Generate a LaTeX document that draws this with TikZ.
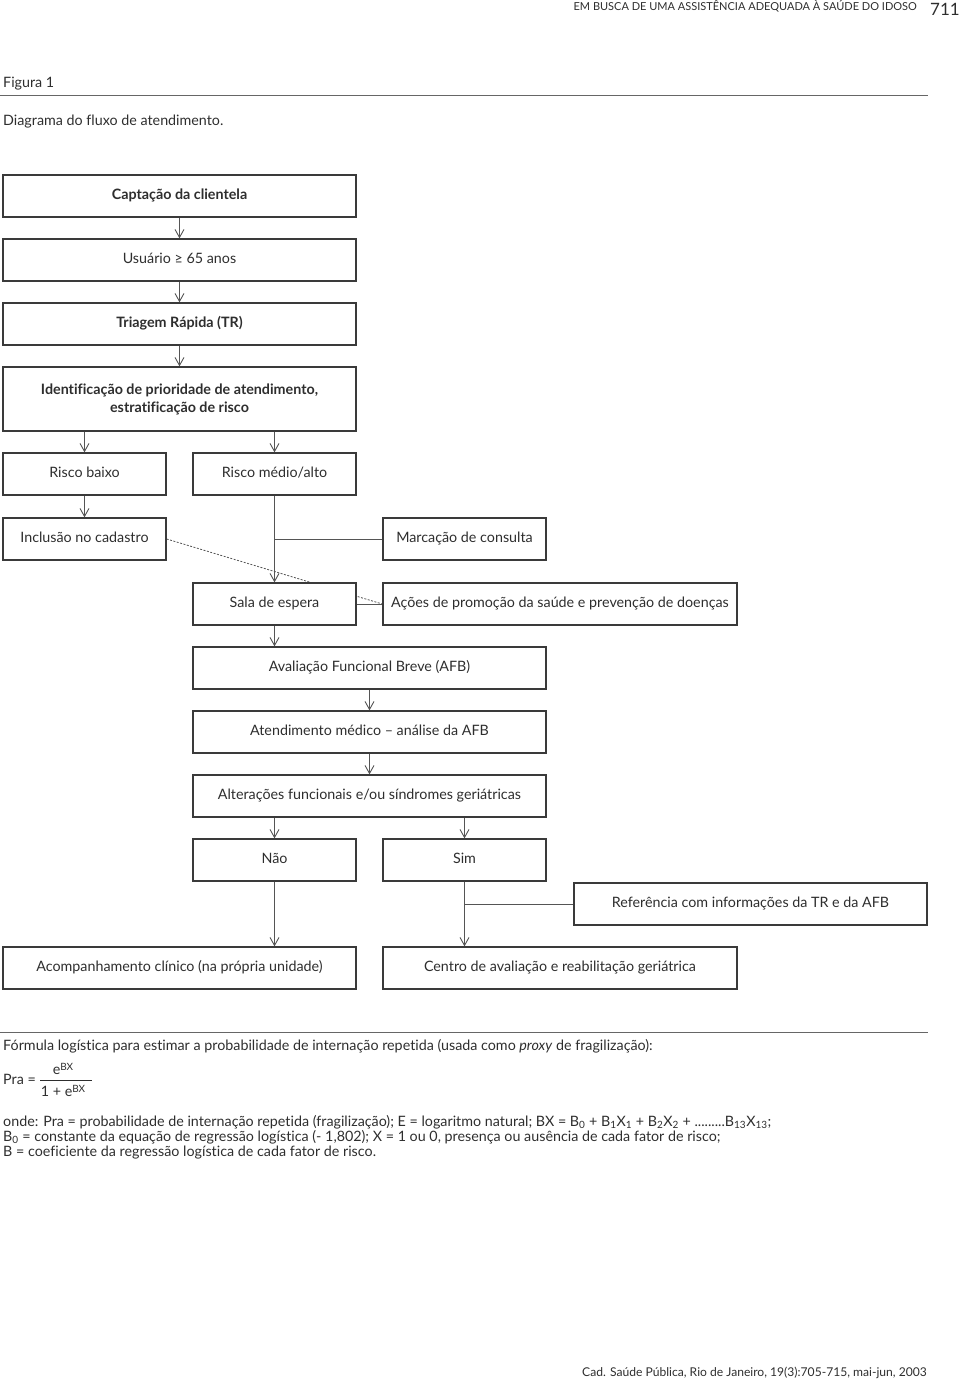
\documentclass[tikz,border=0pt]{standalone}
\usepackage{fontspec}
\setmainfont{Lato}[Ligatures=NoCommon]
\usetikzlibrary{arrows.meta,backgrounds}
\definecolor{txt}{HTML}{2E2E2E}
\definecolor{frame}{HTML}{3A3A3A}
\definecolor{conn}{HTML}{555555}
\newcommand{\supbx}{\raisebox{3.5pt}{\fontsize{10}{11}\selectfont BX}}
\tikzset{
  basebox/.style={draw=frame, line width=1.3pt, fill=white, rectangle, inner sep=0pt,
    minimum height=42pt, text=txt, font=\fontsize{14.3}{18}\selectfont, align=center},
  box/.style={basebox, text height=10.5pt, text depth=3.5pt},
  full/.style={minimum width=353pt},
  half/.style={minimum width=163pt},
  wide/.style={minimum width=354pt},
  strong/.style={font=\fontsize{14.3}{18}\selectfont\bfseries},
  arr/.style={draw=conn, line width=0.9pt, -{Straight Barb[length=8pt,width=9pt]}},
  link/.style={draw=conn, line width=0.9pt},
  dotlink/.style={draw=conn, line width=0.8pt, dash pattern=on 2pt off 1.5pt},
  rule/.style={draw=black!60, line width=0.9pt},
  plain/.style={text=txt, inner sep=0pt, font=\fontsize{14.3}{17}\selectfont},
}
\begin{document}
\begin{tikzpicture}[x=1pt,y=-1pt]
\useasboundingbox (0,0) rectangle (960,1383);
% header
\node[plain, anchor=east, font=\fontsize{11}{13}\selectfont] (hdr) at (917,6) {EM BUSCA DE UMA ASSISTÊNCIA ADEQUADA À SAÚDE DO IDOSO};
\node[plain, anchor=east, font=\fontsize{17}{19}\selectfont] (pg) at (960,9) {711};
\node[plain, anchor=west] (fig) at (3,84) {Figura 1};
\coordinate (r1a) at (0,95); \coordinate (r1b) at (928,95);
\draw[rule] (r1a) -- (r1b);
\node[plain, anchor=west] (cap1) at (3,122) {Diagrama do fluxo de atendimento.};
% boxes
\node[box, full, strong] (cap) at (179.5,196) {Captação da clientela};
\node[box, full] (usu) at (179.5,260) {Usuário ≥ 65 anos};
\node[box, full, strong] (tri) at (179.5,324) {Triagem Rápida (TR)};
\node[basebox, full, strong, minimum height=64pt] (ide) at (179.5,399) {Identificação de prioridade de atendimento,\\estratificação de risco};
\node[box, half] (rb) at (84.5,474) {Risco baixo};
\node[box, half] (rm) at (274.5,474) {Risco médio/alto};
\node[box, half] (inc) at (84.5,539) {Inclusão no cadastro};
\node[box, half] (mar) at (464.5,539) {Marcação de consulta};
\node[box, half] (sala) at (274.5,604) {Sala de espera};
\node[box, wide] (acoes) at (560,604) {Ações de promoção da saúde e prevenção de doenças};
\node[box, full] (afb) at (369.5,668) {Avaliação Funcional Breve (AFB)};
\node[box, full] (ate) at (369.5,732) {Atendimento médico – análise da AFB};
\node[box, full] (alt) at (369.5,796) {Alterações funcionais e/ou síndromes geriátricas};
\node[box, half] (nao) at (274.5,860) {Não};
\node[box, half] (sim) at (464.5,860) {Sim};
\node[box, full] (ref) at (750.5,904) {Referência com informações da TR e da AFB};
\node[box, full] (acomp) at (179.5,968) {Acompanhamento clínico (na própria unidade)};
\node[box, wide] (centro) at (560,968) {Centro de avaliação e reabilitação geriátrica};
% connectors
\begin{scope}[on background layer]
\draw[arr] (cap.south) -- (usu.north);
\draw[arr] (usu.south) -- (tri.north);
\draw[arr] (tri.south) -- (ide.north);
\draw[arr] (ide.south -| rb.north) -- (rb.north);
\draw[arr] (ide.south -| rm.north) -- (rm.north);
\draw[arr] (rb.south) -- (inc.north);
\draw[arr] (rm.south) -- (sala.north);
\draw[link] (mar.west) -- (mar.west -| rm.south);
\draw[dotlink] (inc.east) -- (acoes.west);
\draw[link] (sala.east) -- (acoes.west);
\draw[arr] (sala.south) -- (sala.south |- afb.north);
\draw[arr] (afb.south) -- (ate.north);
\draw[arr] (ate.south) -- (alt.north);
\draw[arr] (alt.south -| nao.north) -- (nao.north);
\draw[arr] (alt.south -| sim.north) -- (sim.north);
\draw[arr] (nao.south) -- (nao.south |- acomp.north);
\draw[arr] (sim.south) -- (sim.south |- centro.north);
\draw[link] (ref.west) -- (ref.west -| sim.south);
\end{scope}
% formula section
\coordinate (r2a) at (0,1032); \coordinate (r2b) at (928,1032);
\draw[rule] (r2a) -- (r2b);
\node[plain, anchor=west] (f1) at (3,1046) {Fórmula logística para estimar a probabilidade de internação repetida (usada como \textit{proxy} de fragilização):};
\node[plain, anchor=west] (pra) at (3,1079) {Pra =};
\node[plain, anchor=base] (num) at (63,1074) {e\supbx};
\node[plain, anchor=base] (den) at (63,1096) {1 + e\supbx};
\coordinate (fb1) at (40,1080); \coordinate (fb2) at (92,1080);
\draw[link, draw=txt, line width=0.7pt] (fb1) -- (fb2);
\node[plain, anchor=base west] (f2) at (3,1126) {onde: Pra = probabilidade de internação repetida (fragilização); E = logaritmo natural; BX = B\textsubscript{0} + B\textsubscript{1}X\textsubscript{1} + B\textsubscript{2}X\textsubscript{2} + .........B\textsubscript{13}X\textsubscript{13};};
\node[plain, anchor=base west] (f3) at (3,1141) {B\textsubscript{0} = constante da equação de regressão logística (- 1,802); X = 1 ou 0, presença ou ausência de cada fator de risco;};
\node[plain, anchor=base west] (f4) at (3,1156) {B = coeficiente da regressão logística de cada fator de risco.};
% footer
\node[plain, anchor=east, font=\fontsize{12.1}{14}\selectfont] (foot) at (927,1373) {Cad. Saúde Pública, Rio de Janeiro, 19(3):705-715, mai-jun, 2003};
\end{tikzpicture}
\end{document}
